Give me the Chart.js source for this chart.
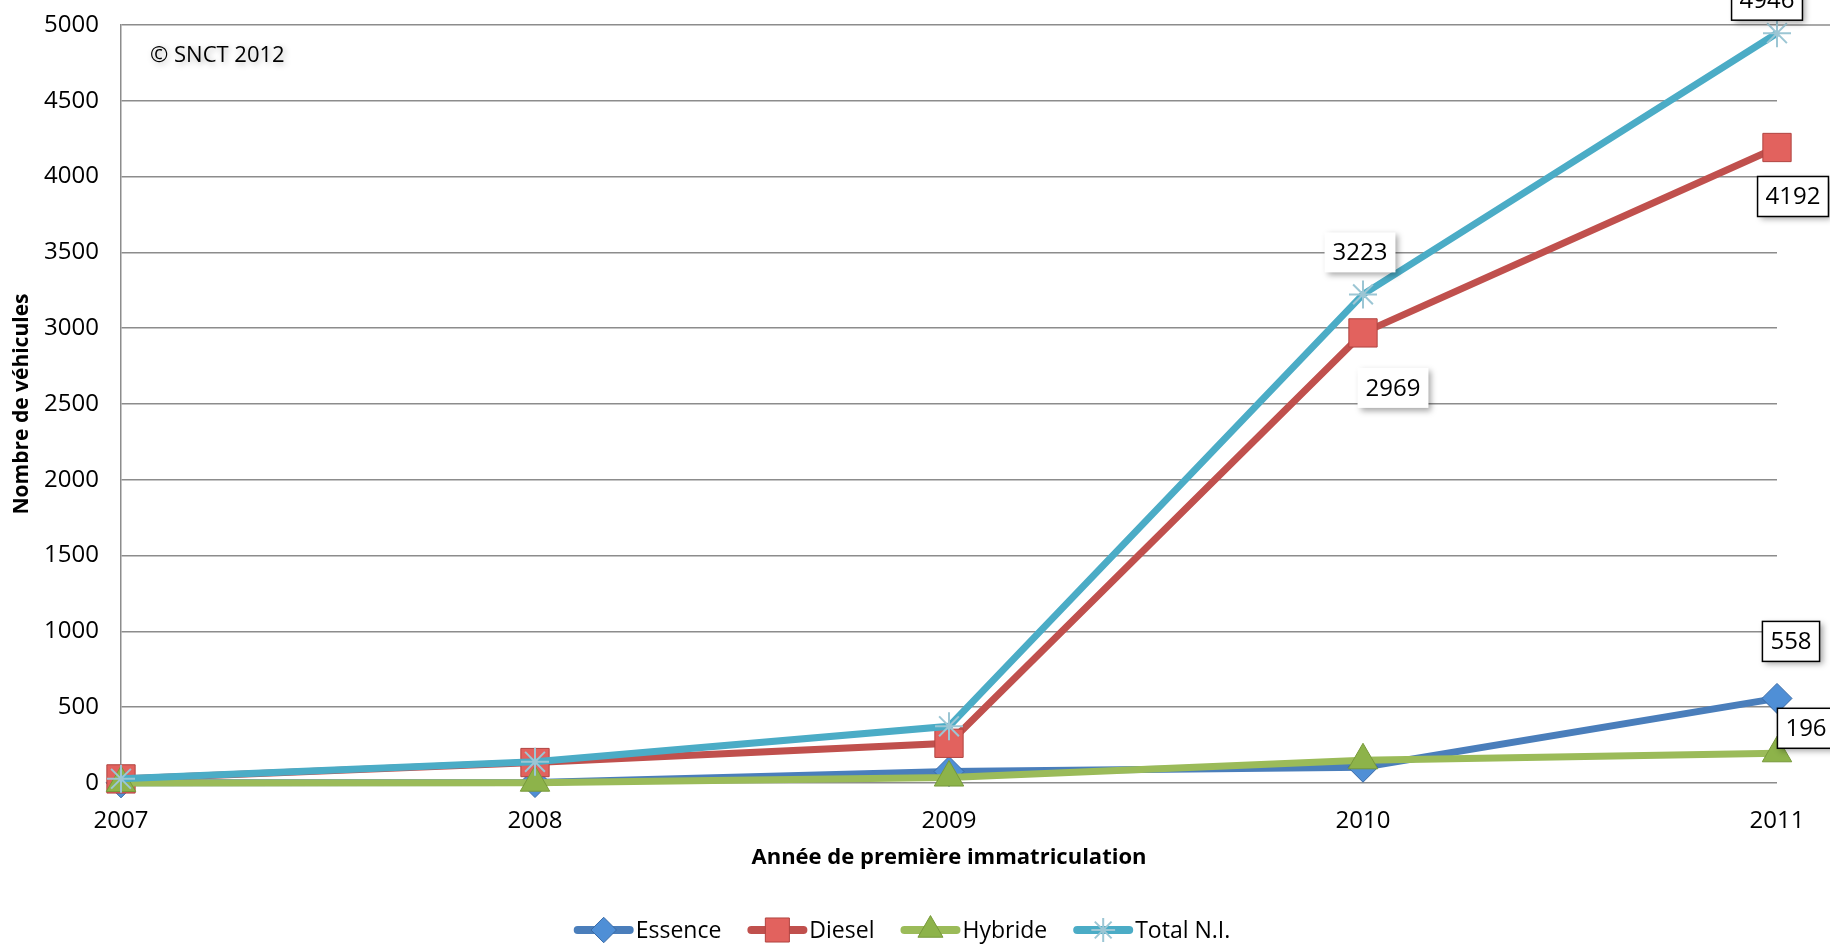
<!DOCTYPE html>
<html>
<head>
<meta charset="utf-8">
<script src="https://cdn.jsdelivr.net/npm/chart.js@4.4.1/dist/chart.umd.min.js"></script>
<style>
  html, body { margin: 0; padding: 0; background: #fff; }
  canvas { display: block; }
</style>
</head>
<body>
<canvas id="vehiculeChart" width="1830" height="945"></canvas>
<script>
// data
const years = ['2007', '2008', '2009', '2010', '2011'];
const essence = [1, 3, 76, 104, 558];
const diesel = [27, 135, 262, 2969, 4192];
const hybride = [0, 2, 36, 150, 196];
const totalNI = [28, 140, 374, 3223, 4946];
const yMax = 5000;
const yStep = 500;

// which points get a value box (dataset index, point index)
const boxedPoints = [[3, 4], [1, 4], [3, 3], [1, 3], [0, 4], [2, 4]];
// box placement relative to the point, and whether it has a black frame
const boxPlacement = [
    { dx: -10, dy: -33, frame: true },
    { dx: 16, dy: 49, frame: true },
    { dx: -3, dy: -42, frame: false },
    { dx: 30, dy: 55, frame: false },
    { dx: 14, dy: -57, frame: true },
    { dx: 29, dy: -25, frame: true }
];

const FONT = '"Open Sans", "Noto Sans", sans-serif';
Chart.defaults.font.family = FONT;
Chart.defaults.color = '#000';

// value boxes next to some points
const valueBoxes = {
    id: 'valueBoxes',
    afterDatasetsDraw(chart) {
        const ctx = chart.ctx;
        ctx.save();
        ctx.font = '24px ' + FONT;
        boxedPoints.forEach(([ds, i], n) => {
            const place = boxPlacement[n];
            const pt = chart.getDatasetMeta(ds).data[i];
            const text = String(chart.data.datasets[ds].data[i]);
            const w = ctx.measureText(text).width + 16;
            const h = 40;
            const x = pt.x + place.dx - w / 2;
            const y = pt.y + place.dy - h / 2;

            ctx.shadowColor = 'rgba(0,0,0,0.35)';
            ctx.shadowBlur = 6;
            ctx.shadowOffsetX = 3;
            ctx.shadowOffsetY = 3;
            ctx.fillStyle = '#fff';
            ctx.fillRect(x, y, w, h);
            ctx.shadowColor = 'transparent';
            if (place.frame) {
                ctx.strokeStyle = '#000';
                ctx.lineWidth = 1.5;
                ctx.strokeRect(x, y, w, h);
            }
            ctx.fillStyle = '#000';
            ctx.textAlign = 'center';
            ctx.textBaseline = 'middle';
            ctx.fillText(text, x + w / 2, y + h / 2 + 1);
        });
        ctx.restore();
    }
};

// copyright note and the top frame line running to the edge
const decorations = {
    id: 'decorations',
    beforeDatasetsDraw(chart) {
        const ctx = chart.ctx;
        const area = chart.chartArea;
        ctx.save();
        ctx.strokeStyle = '#8c8c8c';
        ctx.lineWidth = 1.5;
        ctx.beginPath();
        ctx.moveTo(area.right, area.top);
        ctx.lineTo(chart.width, area.top);
        ctx.stroke();

        ctx.font = '22px ' + FONT;
        ctx.textBaseline = 'middle';
        ctx.shadowColor = 'rgba(0,0,0,0.3)';
        ctx.shadowBlur = 6;
        ctx.shadowOffsetX = 2;
        ctx.shadowOffsetY = 2;
        ctx.fillStyle = '#000';
        ctx.fillText('\u00A9 SNCT 2012', area.left + 29, area.top + 31);
        ctx.restore();
    }
};

// legend: line sample with marker, then the name
const lineLegend = {
    id: 'lineLegend',
    afterDraw(chart) {
        const ctx = chart.ctx;
        const sets = chart.data.datasets;
        const sample = 60, gap = 2, spacing = 26;
        ctx.save();
        ctx.font = '23px ' + FONT;
        ctx.textBaseline = 'middle';
        const widths = sets.map(d => sample + gap + ctx.measureText(d.label).width);
        const total = widths.reduce((a, b) => a + b, 0) + spacing * (sets.length - 1);
        let x = 902 - total / 2;
        const y = 930;
        sets.forEach((d, k) => {
            ctx.strokeStyle = d.borderColor;
            ctx.lineWidth = 8;
            ctx.lineCap = 'round';
            ctx.beginPath();
            ctx.moveTo(x + 4, y);
            ctx.lineTo(x + sample - 4, y);
            ctx.stroke();
            ctx.lineCap = 'butt';
            ctx.fillStyle = d.pointBackgroundColor;
            ctx.strokeStyle = d.pointBorderColor;
            ctx.lineWidth = d.pointBorderWidth;
            Chart.helpers.drawPoint(ctx, {
                pointStyle: d.pointStyle,
                radius: d.pointRadius * 0.85,
                borderWidth: d.pointBorderWidth
            }, x + sample / 2, y);
            ctx.fillStyle = '#000';
            ctx.fillText(d.label, x + sample + gap, y + 1);
            x += widths[k] + spacing;
        });
        ctx.restore();
    }
};

function makeSeries(label, data, line, fill, edge, style, radius, order) {
    return {
        label: label,
        data: data,
        borderColor: line,
        borderWidth: 7,
        pointStyle: style,
        pointRadius: radius,
        pointHoverRadius: radius,
        pointBackgroundColor: fill,
        pointBorderColor: edge,
        pointBorderWidth: style === 'star' ? 2 : 1,
        tension: 0,
        fill: false,
        clip: false,
        order: order
    };
}

const ctx = document.getElementById('vehiculeChart');

const vehiculeChart = new Chart(ctx, {
    type: 'line',
    data: {
        labels: years,
        datasets: [
            makeSeries('Essence', essence, '#4a7ebb', '#4f8fd6', '#3a6aa5', 'rectRot', 15, 4),
            makeSeries('Diesel', diesel, '#c0504d', '#e2625e', '#b04440', 'rect', 20, 3),
            makeSeries('Hybride', hybride, '#9bbb59', '#8db34a', '#77993a', 'triangle', 17, 2),
            makeSeries('Total N.I.', totalNI, '#4bacc6', '#a8dcea', '#9cc6d4', 'star', 14, 1)
        ]
    },
    options: {
        responsive: false,
        animation: false,
        layout: {
            padding: { top: 25, right: 53, bottom: 74, left: 0 }
        },
        plugins: {
            legend: { display: false },
            tooltip: { enabled: false }
        },
        scales: {
            x: {
                offset: false,
                grid: { display: false, drawTicks: false },
                border: { display: false },
                ticks: { padding: 24, font: { size: 24 }, maxRotation: 0 },
                title: {
                    display: true,
                    text: 'Année de première immatriculation',
                    font: { size: 22, weight: 'bold' },
                    padding: { top: 0, bottom: 0 }
                },
                afterFit(scale) { scale.height = 88; }
            },
            y: {
                min: 0,
                max: yMax,
                grid: { color: '#8c8c8c', lineWidth: 1.5, drawTicks: false },
                border: { display: true, color: '#8c8c8c', width: 1.5 },
                ticks: {
                    stepSize: yStep,
                    padding: 22,
                    font: { size: 24 },
                    callback: value => String(value)
                },
                title: {
                    display: true,
                    text: 'Nombre de véhicules',
                    font: { size: 21, weight: 'bold' },
                    padding: { top: 9, bottom: 0 }
                },
                afterFit(scale) {
                    scale.width = 121;
                    scale.paddingTop = 0;
                    scale.paddingBottom = 0;
                }
            }
        }
    },
    plugins: [decorations, valueBoxes, lineLegend]
});
</script>
</body>
</html>
